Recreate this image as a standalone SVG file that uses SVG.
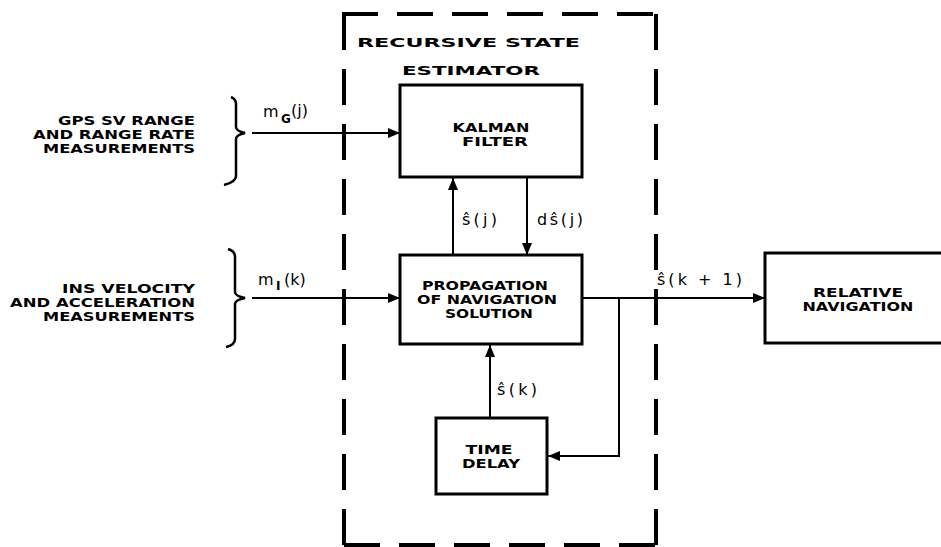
<svg xmlns="http://www.w3.org/2000/svg" width="941" height="547" viewBox="0 0 941 547">
<defs>
<marker id="ah" viewBox="0 0 12 10" refX="12" refY="5" markerWidth="12" markerHeight="10" markerUnits="userSpaceOnUse" orient="auto">
<path d="M0,0 L12,5 L0,10 Z" fill="#000"/>
</marker>
</defs>
<style>
.box{fill:#fff;stroke:#000;stroke-width:3}
.cap{font-family:"DejaVu Sans",sans-serif;font-weight:bold;font-size:13px;fill:#000}
.side{font-size:12.5px}
.lbl{font-family:"DejaVu Sans",sans-serif;font-size:16px;fill:#000}
.sub{font-family:"DejaVu Sans",sans-serif;font-size:12px;font-weight:bold;fill:#000}
.ln{fill:none;stroke:#000;stroke-width:2}
.dash{fill:none;stroke:#000;stroke-width:4;stroke-dasharray:36 19}
.brace{fill:none;stroke:#000;stroke-width:2.5}
</style>
<rect width="941" height="547" fill="#fff"/>

<g id="estimator">
<line class="dash" x1="342" y1="14" x2="656" y2="14"/>
<line class="dash" x1="656" y1="14" x2="656" y2="545"/>
<line class="dash" x1="344" y1="14" x2="344" y2="545"/>
<line class="dash" x1="344" y1="545" x2="656" y2="545"/>
<text class="cap" x="357" y="47" font-size="19" textLength="223" lengthAdjust="spacingAndGlyphs">RECURSIVE STATE</text>
<text class="cap" x="402" y="75" font-size="19" textLength="138" lengthAdjust="spacingAndGlyphs">ESTIMATOR</text>
</g>

<g id="gps-input">
<text class="cap side" x="195" y="125" text-anchor="end" textLength="137" lengthAdjust="spacingAndGlyphs">GPS SV RANGE</text>
<text class="cap side" x="195" y="139" text-anchor="end" textLength="162" lengthAdjust="spacingAndGlyphs">AND RANGE RATE</text>
<text class="cap side" x="195" y="153" text-anchor="end" textLength="152" lengthAdjust="spacingAndGlyphs">MEASUREMENTS</text>
<path class="brace" d="M231,97 Q236,99 236,104 L236,127 Q236,131 245,133 Q236,135 236,139 L236,176 Q236,182 224,185"/>
</g>

<g id="ins-input">
<text class="cap side" x="195" y="293" text-anchor="end" textLength="133" lengthAdjust="spacingAndGlyphs">INS VELOCITY</text>
<text class="cap side" x="195" y="307" text-anchor="end" textLength="185" lengthAdjust="spacingAndGlyphs">AND ACCELERATION</text>
<text class="cap side" x="195" y="321" text-anchor="end" textLength="152" lengthAdjust="spacingAndGlyphs">MEASUREMENTS</text>
<path class="brace" d="M228,249 Q235,251 235,257 L235,292 Q235,296 245,298 Q235,300 235,304 L235,339 Q235,345 226,347"/>
</g>

<g id="kalman">
<rect class="box" x="400" y="85" width="182" height="92"/>
<text class="cap" x="491" y="132" text-anchor="middle" textLength="77" lengthAdjust="spacingAndGlyphs">KALMAN</text>
<text class="cap" x="495" y="146" text-anchor="middle" textLength="66" lengthAdjust="spacingAndGlyphs">FILTER</text>
</g>

<g id="propagation">
<rect class="box" x="400" y="255" width="182" height="89"/>
<text class="cap" x="485" y="290" text-anchor="middle" textLength="126" lengthAdjust="spacingAndGlyphs">PROPAGATION</text>
<text class="cap" x="487" y="304" text-anchor="middle" textLength="140" lengthAdjust="spacingAndGlyphs">OF NAVIGATION</text>
<text class="cap" x="489" y="318" text-anchor="middle" textLength="88" lengthAdjust="spacingAndGlyphs">SOLUTION</text>
</g>

<g id="time-delay">
<rect class="box" x="436" y="418" width="111" height="76"/>
<text class="cap" x="489" y="454" text-anchor="middle" textLength="47" lengthAdjust="spacingAndGlyphs">TIME</text>
<text class="cap" x="491" y="468" text-anchor="middle" textLength="58" lengthAdjust="spacingAndGlyphs">DELAY</text>
</g>

<g id="relative-navigation">
<rect class="box" x="765" y="253" width="185" height="90"/>
<text class="cap" x="858" y="297" text-anchor="middle" textLength="90" lengthAdjust="spacingAndGlyphs">RELATIVE</text>
<text class="cap" x="858" y="311" text-anchor="middle" textLength="111" lengthAdjust="spacingAndGlyphs">NAVIGATION</text>
</g>

<g id="connectors">
<line class="ln" x1="252" y1="133" x2="400" y2="133" marker-end="url(#ah)"/>
<line class="ln" x1="252" y1="298" x2="400" y2="298" marker-end="url(#ah)"/>
<line class="ln" x1="453" y1="255" x2="453" y2="178" marker-end="url(#ah)"/>
<line class="ln" x1="527" y1="178" x2="527" y2="255" marker-end="url(#ah)"/>
<line class="ln" x1="490" y1="418" x2="490" y2="345" marker-end="url(#ah)"/>
<line class="ln" x1="582" y1="298" x2="765" y2="298" marker-end="url(#ah)"/>
<polyline class="ln" points="619,298 619,456 548,456" marker-end="url(#ah)"/>
<text class="lbl" x="263" y="117">m</text>
<text class="sub" x="281" y="123">G</text>
<text class="lbl" x="291" y="116" font-size="14">(j)</text>
<text class="lbl" x="258" y="285">m</text>
<text class="sub" x="276" y="290">I</text>
<text class="lbl" x="284" y="285">(k)</text>
<text class="lbl" x="462" y="225" textLength="35" lengthAdjust="spacing">ŝ(j)</text>
<text class="lbl" x="537" y="225" textLength="46" lengthAdjust="spacing">dŝ(j)</text>
<text class="lbl" x="497" y="395" textLength="40" lengthAdjust="spacing">ŝ(k)</text>
<text class="lbl" x="657" y="285" textLength="85" lengthAdjust="spacing">ŝ(k + 1)</text>
</g>
</svg>
